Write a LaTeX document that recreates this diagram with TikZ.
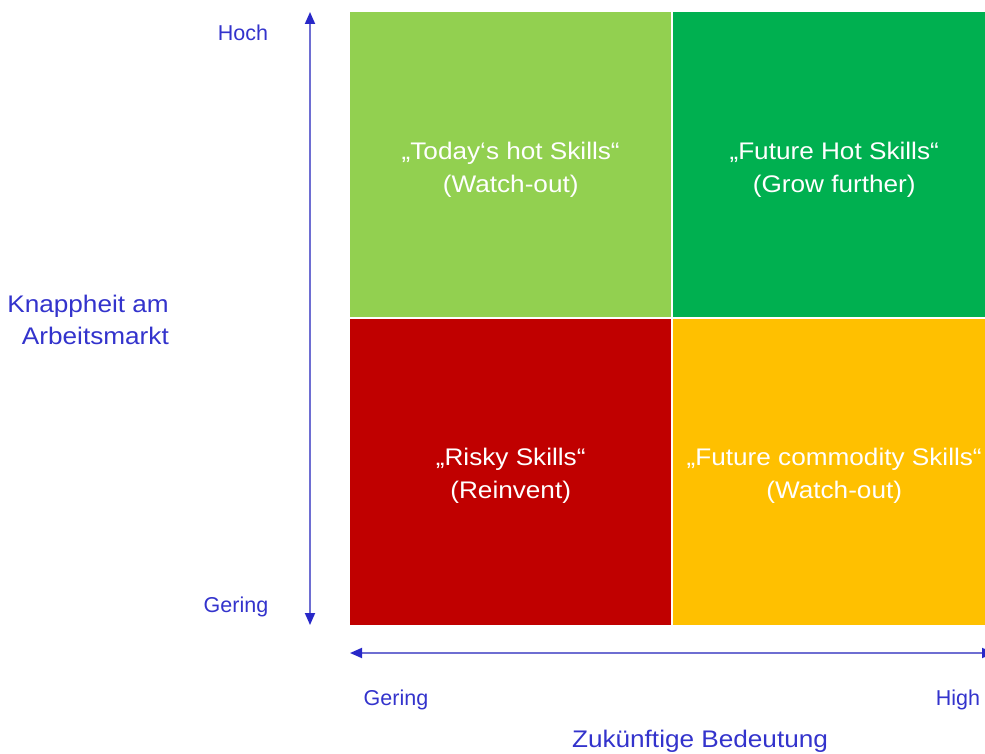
\documentclass[tikz,border=0pt]{standalone}
\usepackage{fontspec}
\setmainfont{Liberation Sans}
\newfontfamily\widesans[FakeStretch=1.09]{Liberation Sans}
\usepackage{xcolor}
\usepackage{tikz}
\usetikzlibrary{arrows.meta, positioning, calc}
\definecolor{hotgreen}{RGB}{146, 208, 80}
\definecolor{futuregreen}{RGB}{0, 176, 80}
\definecolor{riskyred}{RGB}{192, 0, 0}
\definecolor{commodityorange}{RGB}{255, 192, 0}
\definecolor{axistext}{RGB}{51, 51, 204}
\definecolor{axisline}{RGB}{110, 110, 210}
\definecolor{axishead}{RGB}{40, 40, 200}

\begin{document}
\begin{tikzpicture}[
    x=1pt, y=-1pt,
    font=\widesans\fontsize{24}{33}\selectfont,
    axisarrow/.style={{Triangle[length=12pt, width=10pt, color=axishead]}-{Triangle[length=12pt, width=10pt, color=axishead]},
                      line width=1.8pt, draw=axisline},
    axislabel/.style={text=axistext, inner sep=0pt, font=\fontsize{21.5}{26}\selectfont},
    axistitle/.style={text=axistext, inner sep=0pt, font=\widesans\fontsize{24}{32}\selectfont},
    quadrant/.style={rectangle, inner sep=0pt, anchor=north west,
                     minimum width=321pt, minimum height=305pt},
    quadtext/.style={text=white, align=center, inner sep=0pt},
]
\useasboundingbox (0, 0) rectangle (985, 754);

% ============================================================
% QUADRANTS
% ============================================================
\node[quadrant, fill=hotgreen] (hot) at (350, 12) {};
\node[quadrant, fill=futuregreen, minimum width=322pt] (future) at (673, 12) {};
\node[quadrant, fill=riskyred, minimum height=306pt] (risky) at (350, 319) {};
\node[quadrant, fill=commodityorange, minimum width=322pt, minimum height=306pt] (commodity) at (673, 319) {};

\node[quadtext] (hottext) at ([yshift=-5pt]hot.center)
    {„Today‘s hot Skills“\\(Watch-out)};
\node[quadtext] (futuretext) at ([yshift=-5pt]future.center)
    {„Future Hot Skills“\\(Grow further)};
\node[quadtext] (riskytext) at ([yshift=-4pt]risky.center)
    {„Risky Skills“\\(Reinvent)};
\node[quadtext] (commoditytext) at ([yshift=-4pt]commodity.center)
    {„Future commodity Skills“\\(Watch-out)};

% ============================================================
% AXES
% ============================================================
\coordinate (ytop) at (310, 12);
\coordinate (ybottom) at (310, 625);
\coordinate (xleft) at (350, 653);
\coordinate (xright) at (994, 653);
\draw[axisarrow] (ybottom) -- (ytop);
\draw[axisarrow] (xleft) -- (xright);

% ============================================================
% LABELS
% ============================================================
\node[axislabel] (high) at (243, 33) {Hoch};
\node[axislabel] (low) at (236, 607) {Gering};
\node[axistitle, align=right, anchor=east] (scarcity) at (169, 320)
    {Knappheit am\\Arbeitsmarkt};

\node[axislabel] (lowx) at (396, 700) {Gering};
\node[axislabel] (highx) at (958, 700) {High};
\node[axistitle] (importance) at (700, 741) {Zukünftige Bedeutung};

\end{tikzpicture}
\end{document}
